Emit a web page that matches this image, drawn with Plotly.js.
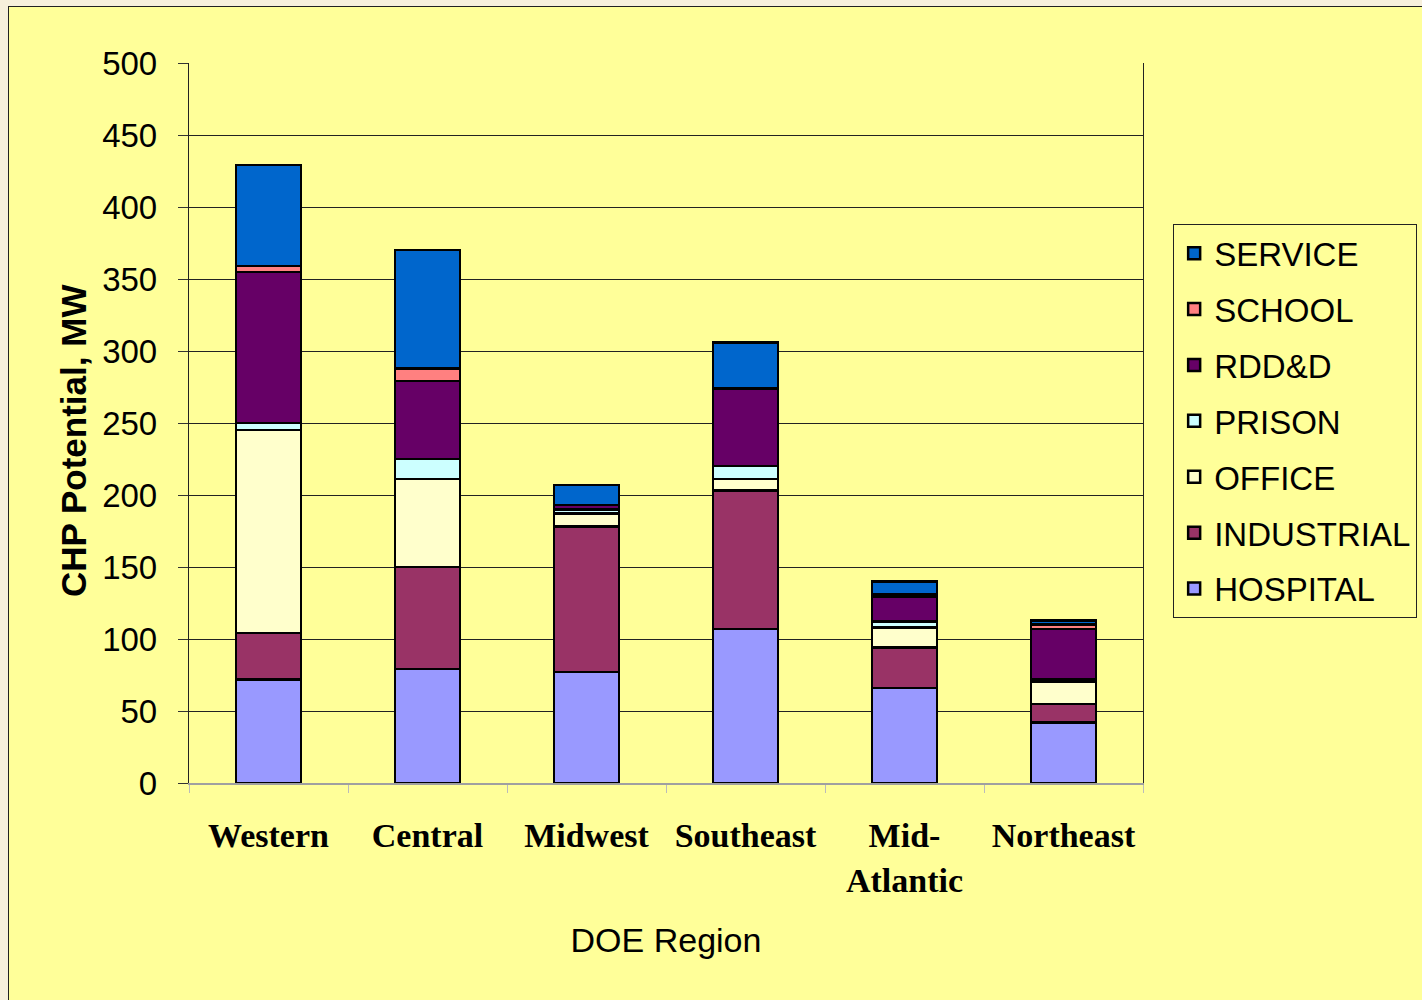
<!DOCTYPE html>
<html>
<head>
<meta charset="utf-8">
<script src="https://cdn.plot.ly/plotly-3.0.1.min.js"></script>
<style>
  html, body { margin: 0; padding: 0; background: #f7f0dc; width: 1422px; height: 1000px; overflow: hidden; }
  #chart { position: absolute; left: 8px; top: 6px; width: 1414px; height: 994px; box-sizing: border-box; border-left: 1.5px solid #222; border-top: 1.5px solid #222; }
</style>
</head>
<body>
<div id="chart"></div>
<script>
const regions = ["Western", "Central", "Midwest", "Southeast", "Mid-<br>Atlantic", "Northeast"];

const hospital   = [72, 79, 77, 107, 66, 42];
const industrial = [32, 71, 101, 96, 28, 13];
const office     = [141, 61, 9, 8, 14, 15];
const prison     = [5, 14, 3, 9, 4, 2];
const rddd       = [105, 54, 3, 54, 17, 35];
const school     = [4, 9, 0, 0, 2, 3];
const service    = [70, 82, 14, 32, 9, 3];

const seriesNames  = ["HOSPITAL", "INDUSTRIAL", "OFFICE", "PRISON", "RDD&D", "SCHOOL", "SERVICE"];
const seriesValues = [hospital, industrial, office, prison, rddd, school, service];
const seriesColors = ["#9999ff", "#993366", "#ffffcc", "#ccffff", "#660066", "#ff8080", "#0066cc"];

const traces = seriesNames.map((name, i) => ({
  type: "bar",
  name: name,
  legendgroup: "g" + i,
  legendrank: 100 - i,
  x: regions,
  y: seriesValues[i],
  marker: { color: seriesColors[i], line: { color: "#000000", width: 2.5 } },
  hoverinfo: "name+y"
}));

const layout = {
  width: 1414,
  height: 994,
  barmode: "stack",
  bargap: 0.59,
  paper_bgcolor: "#ffff99",
  plot_bgcolor: "#ffff99",
  margin: { l: 180, r: 280, t: 56, b: 218, autoexpand: false },
  font: { family: "Liberation Sans, Arial, sans-serif", color: "#000" },
  xaxis: {
    type: "category",
    tickfont: { family: "Liberation Serif, Times New Roman, serif", size: 34, color: "#000", weight: "bold" },
    ticks: "outside",
    tickson: "boundaries",
    ticklen: 8,
    tickcolor: "#bbb",
    ticklabelstandoff: 22,
    showline: true,
    linecolor: "#a0a0a0",
    linewidth: 1.5,
    showgrid: false,
    title: { text: "DOE Region", font: { size: 34, family: "Liberation Sans, Arial, sans-serif" }, standoff: 30 },
    automargin: false
  },
  yaxis: {
    range: [0, 500],
    dtick: 50,
    tick0: 0,
    ticks: "outside",
    ticklen: 10,
    tickcolor: "#333",
    tickfont: { size: 33, family: "Liberation Sans, Arial, sans-serif", color: "#000" },
    ticklabelstandoff: 14,
    showline: true,
    mirror: true,
    linecolor: "#222",
    linewidth: 1.2,
    showgrid: true,
    gridcolor: "#222",
    gridwidth: 1,
    zeroline: false,
    automargin: false
  },
  annotations: [{
    text: "CHP Potential, MW",
    textangle: -90,
    xref: "paper", yref: "paper",
    x: -0.1216, y: 0.475,
    xanchor: "center", yanchor: "middle",
    showarrow: false,
    font: { size: 35, weight: "bold", family: "Liberation Sans, Arial, sans-serif", color: "#000" }
  }],
  showlegend: true,
  legend: {
    x: 1.0314,
    xanchor: "left",
    y: 0.7764,
    yanchor: "top",
    traceorder: "grouped",
    bgcolor: "#ffff99",
    bordercolor: "#222",
    borderwidth: 1.2,
    font: { size: 33, family: "Liberation Sans, Arial, sans-serif", color: "#000" },
    tracegroupgap: 10,
    itemwidth: 30
  }
};

Plotly.newPlot("chart", traces, layout, { displayModeBar: false, staticPlot: true });
</script>
</body>
</html>
